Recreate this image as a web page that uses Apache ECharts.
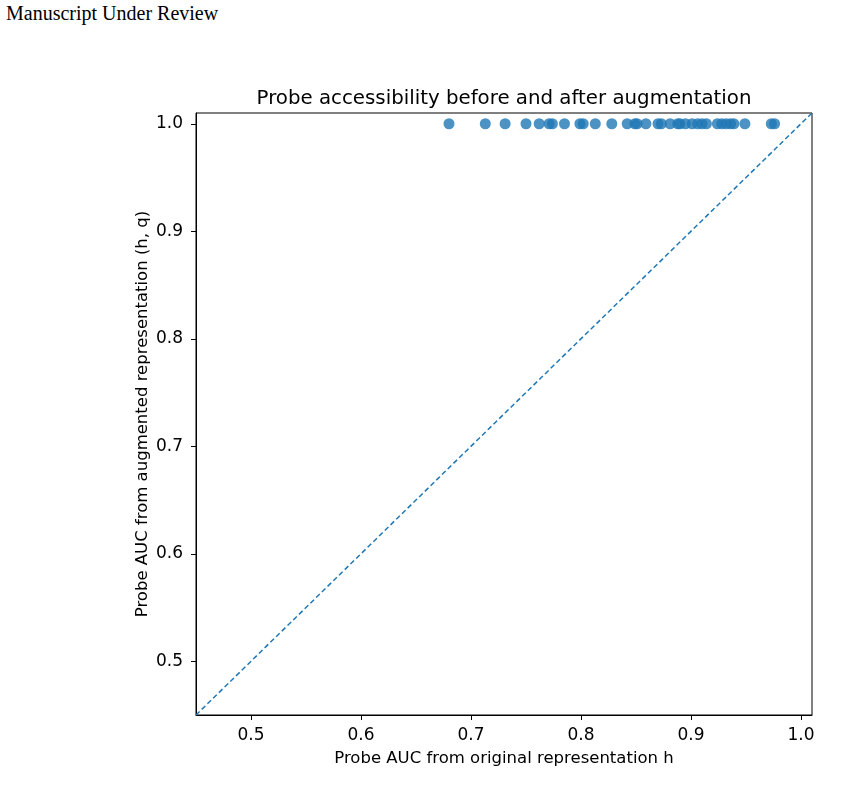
<!DOCTYPE html>
<html>
<head>
<meta charset="utf-8">
<style>
html,body{margin:0;padding:0;background:#fff;}
#header{position:absolute;left:6px;top:2px;font-family:"Liberation Serif","Times New Roman",serif;font-size:20px;color:#000;}
#chart{width:847px;height:800px;}
</style>
<script src="https://cdn.jsdelivr.net/npm/echarts@6/dist/echarts.min.js"></script>
</head>
<body>
<div id="header">Manuscript Under Review</div>
<div id="chart"></div>
<script>
// Probe AUC from original representation h
const originalAUC = [0.680, 0.713, 0.731, 0.750, 0.762, 0.771, 0.774, 0.785, 0.799, 0.802,
  0.813, 0.828, 0.842, 0.849, 0.851, 0.859, 0.870, 0.873, 0.881, 0.888, 0.890, 0.895,
  0.901, 0.906, 0.910, 0.914, 0.924, 0.928, 0.932, 0.936, 0.939, 0.949, 0.973, 0.976];
// Probe AUC from augmented representation (h, q)
const augmentedAUC = originalAUC.map(() => 1.0);
const tickValues = [0.5, 0.6, 0.7, 0.8, 0.9, 1.0];
const diagonal = [[0.45, 0.45], [1.01, 1.01]];

const chart = echarts.init(document.getElementById('chart'));
const font = 'DejaVu Sans';
function axisBase(margin) {
  return {
    type: 'value', min: 0.45, max: 1.01,
    splitLine: {show: false},
    axisLine: {show: true, onZero: false, lineStyle: {color: '#000', width: 1}},
    axisTick: {show: true, inside: false, length: 5, lineStyle: {color: '#000'}, customValues: tickValues},
    axisLabel: {color: '#000', fontFamily: font, fontSize: 17, margin: margin, customValues: tickValues,
      formatter: v => v.toFixed(1)},
    nameLocation: 'middle',
    nameTextStyle: {color: '#000', fontFamily: font, fontSize: 16.5}
  };
}
chart.setOption({
  animation: false,
  title: {
    text: 'Probe accessibility before and after augmentation',
    left: 499, top: 84, textAlign: 'center',
    textStyle: {fontFamily: font, fontSize: 19.8, fontWeight: 'normal', color: '#000'}
  },
  grid: {left: 196, right: 35, top: 113, bottom: 85, show: true, borderColor: '#000', borderWidth: 1, backgroundColor: 'transparent'},
  xAxis: Object.assign(axisBase(12), {name: 'Probe AUC from original representation h', nameGap: 35}),
  yAxis: Object.assign(axisBase(13), {name: 'Probe AUC from augmented representation (h, q)', nameGap: 45, nameMoveOverlap: false}),
  series: [
    {
      type: 'line', data: diagonal, symbol: 'none',
      lineStyle: {color: '#1f77b4', width: 1.5, type: [5, 3]}
    },
    {
      type: 'scatter', data: originalAUC.map((x, i) => [x, augmentedAUC[i]]),
      symbolSize: 11,
      itemStyle: {color: '#1f77b4', opacity: 0.8}
    }
  ]
});
</script>
</body>
</html>
